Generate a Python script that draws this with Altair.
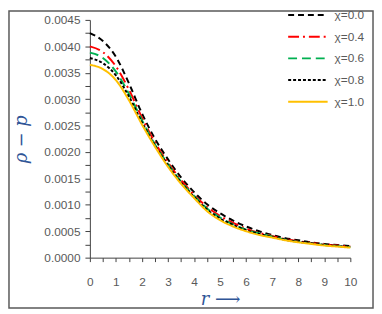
import altair as alt
import pandas as pd

r = [0, 0.5, 1, 1.5, 2, 2.5, 3, 3.5, 4, 4.5, 5, 5.5, 6, 6.5, 7, 7.5, 8, 8.5, 9, 9.5, 10]
chi00 = [0.00425, 0.00410, 0.00380, 0.00330, 0.00273, 0.00225, 0.00186, 0.00152, 0.00124, 0.00101, 0.00084,
         0.00070, 0.00059, 0.00050, 0.00043, 0.00037, 0.00033, 0.00029, 0.00026, 0.00024, 0.00022]
chi04 = [0.00400, 0.00389, 0.00362, 0.00318, 0.00265, 0.00218, 0.00180, 0.00147, 0.00119, 0.00096, 0.00079,
         0.00066, 0.00055, 0.00047, 0.00041, 0.00035, 0.00031, 0.00028, 0.00025, 0.00023, 0.00021]
chi06 = [0.00388, 0.00378, 0.00352, 0.00310, 0.00260, 0.00214, 0.00177, 0.00144, 0.00117, 0.00093, 0.00076,
         0.00063, 0.00053, 0.00046, 0.00040, 0.00034, 0.00030, 0.00027, 0.00024, 0.00022, 0.00020]
chi08 = [0.00378, 0.00368, 0.00345, 0.00305, 0.00256, 0.00212, 0.00175, 0.00142, 0.00115, 0.00091, 0.00074,
         0.00062, 0.00052, 0.00045, 0.00039, 0.00034, 0.00030, 0.00027, 0.00024, 0.00022, 0.00020]
chi10 = [0.00365, 0.00357, 0.00336, 0.00298, 0.00252, 0.00210, 0.00172, 0.00140, 0.00113, 0.00088, 0.00071,
         0.00059, 0.00050, 0.00043, 0.00038, 0.00033, 0.00029, 0.00026, 0.00023, 0.00021, 0.00019]

series_names = ["χ=0.0", "χ=0.4", "χ=0.6", "χ=0.8", "χ=1.0"]
series_vals = [chi00, chi04, chi06, chi08, chi10]
colors = ["#000000", "#FF0000", "#00B050", "#000000", "#FFC000"]
dashes = [[6, 4], [11, 4, 2, 4], [9, 5], [3, 2], [1, 0]]

x_ticks = [round(i * 0.5, 2) for i in range(21)]
y_ticks = [round(i * 0.00025, 6) for i in range(19)]

rows = []
for name, vals in zip(series_names, series_vals):
    for rv, v in zip(r, vals):
        rows.append({"r": rv, "v": v, "series": name})
df = pd.DataFrame(rows)

lines = alt.Chart(df).mark_line(strokeWidth=2, interpolate="monotone").encode(
    x=alt.X("r:Q", scale=alt.Scale(domain=[0, 10], nice=False),
            axis=alt.Axis(values=x_ticks,
                          labelExpr="datum.value % 1 === 0 ? format(datum.value, 'd') : ''",
                          labelOverlap=False, labelFlush=False, labelBound=False,
                          title="r ⟶", grid=False, tickSize=4, labelPadding=15,
                          titlePadding=3)),
    y=alt.Y("v:Q", scale=alt.Scale(domain=[0, 0.0045], nice=False),
            axis=alt.Axis(values=y_ticks,
                          labelExpr="round(datum.value*10000) % 5 === 0 ? format(datum.value, '.4f') : ''",
                          labelOverlap=False, labelFlush=False, labelBound=False,
                          title="ρ − p", grid=False, tickSize=5, labelPadding=5, titlePadding=14)),
    color=alt.Color("series:N", scale=alt.Scale(domain=series_names, range=colors),
                    legend=alt.Legend(title=None, orient="none", legendX=210, legendY=-16,
                                      symbolType="M-2,0L2,0", symbolSize=400, symbolStrokeWidth=2,
                                      labelOffset=16, labelFontSize=12, labelColor="#595959",
                                      labelFont="Liberation Sans", rowPadding=5)),
    strokeDash=alt.StrokeDash("series:N", scale=alt.Scale(domain=series_names, range=dashes), legend=None),
    order=alt.Order("series:N"),
)

border_df = pd.DataFrame({"k": [0]})
border = alt.Chart(border_df).mark_rect(fill=None, stroke="#595959", strokeWidth=1.5).encode(
    x=alt.value(-82), x2=alt.value(287), y=alt.value(-9), y2=alt.value(292)
)

chart = alt.layer(border, lines).properties(
    width=264, height=241,
    padding={"left": 83, "top": 10, "right": 24, "bottom": 52},
    autosize=alt.AutoSizeParams(type="none"),
).configure_view(stroke=None).configure_axis(
    labelFont="Liberation Sans", labelFontSize=12, labelColor="#595959",
    domainColor="#404040", tickColor="#404040",
    titleFont="DejaVu Serif", titleFontStyle="italic", titleFontSize=18, titleFontWeight="normal",
    titleColor="#2F5597",
)

chart.save("out.html", embed_options={"renderer": "svg", "actions": False})
